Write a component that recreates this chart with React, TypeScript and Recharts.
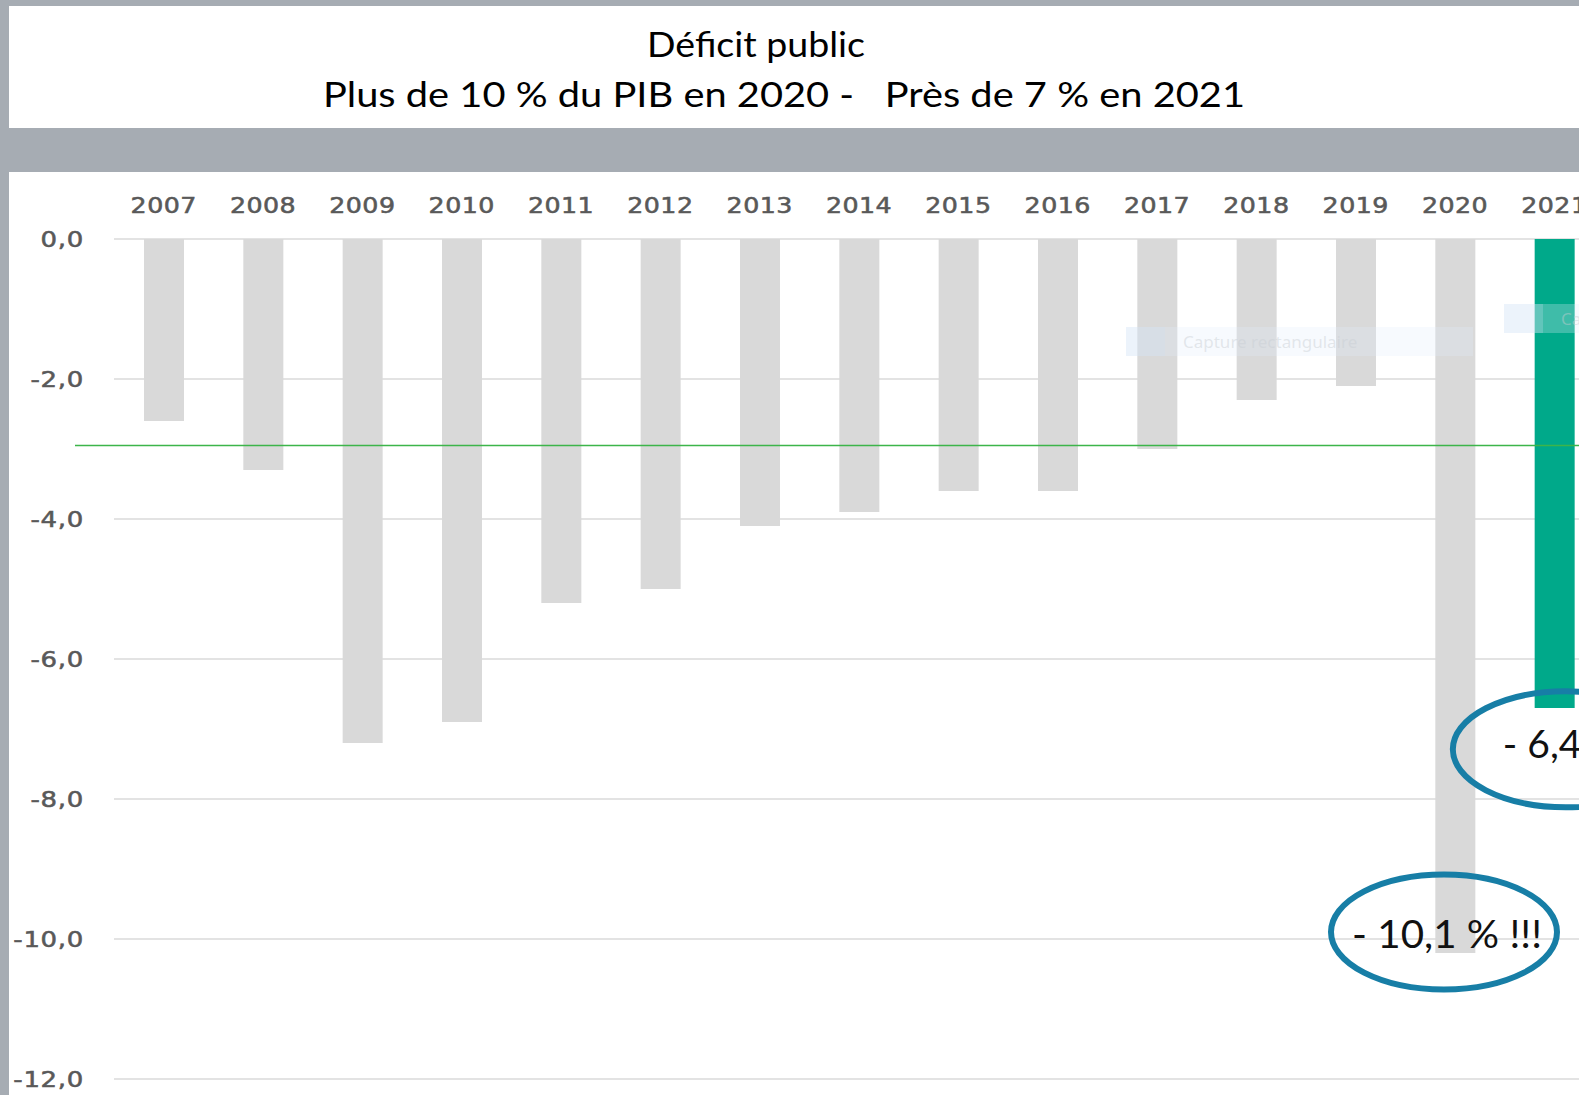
import React from 'react';
import { BarChart, Bar, XAxis, YAxis, CartesianGrid, ReferenceLine, ReferenceDot, Cell } from 'recharts';

const years = ['2007', '2008', '2009', '2010', '2011', '2012', '2013', '2014', '2015', '2016', '2017', '2018', '2019', '2020', '2021'];
const deficit = [-2.6, -3.3, -7.2, -6.9, -5.2, -5.0, -4.1, -3.9, -3.6, -3.6, -3.0, -2.3, -2.1, -10.2, -6.7];
const yTicks = [0, -2, -4, -6, -8, -10, -12];
const titleLine1 = 'Déficit public';
const titleLine2 = 'Plus de 10 % du PIB en 2020 -   Près de 7 % en 2021';
const thresholdValue = -2.95;
const highlightYear = '2021';
const annotationYears = ['2020', '2021'];
const annotationValues = [-9.9, -7.29];
const annotationLabels = ['- 10,1 % !!!', '- 6,4 %'];
const artifactLabel = 'Capture rectangulaire';

const data = years.map((year, i) => ({ year, value: deficit[i] }));

const GRAY_BG = '#a6acb3';
const TICK_COLOR = '#595959';
const RING = '#177ea6';

const XTick = (props: any) => {
  const { x, y, payload } = props;
  return (
    <g transform={`translate(${x},${y}) scale(1.15,1)`}>
      <text x={0} y={0} textAnchor="middle" fill={TICK_COLOR} stroke={TICK_COLOR} strokeWidth={0.55}
        fontFamily="DejaVu Sans" fontSize={22} style={{ letterSpacing: '0.4px' }}>
        {payload.value}
      </text>
    </g>
  );
};

const YTick = (props: any) => {
  const { x, y, payload } = props;
  const label = Number(payload.value).toFixed(1).replace('.', ',');
  return (
    <g transform={`translate(${x},${y}) scale(1.18,1)`}>
      <text x={0} y={0} dy={7.8} textAnchor="end" fill={TICK_COLOR} stroke={TICK_COLOR} strokeWidth={0.55}
        fontFamily="DejaVu Sans" fontSize={22} style={{ letterSpacing: '0.6px' }}>
        {label}
      </text>
    </g>
  );
};

const ringShape = (idx: number) => (p: any) => {
  const cx = p.cx;
  const cy = p.cy;
  if (idx === 0) {
    return (
      <g>
        <ellipse cx={cx - 11} cy={cy} rx={113} ry={57.5} fill="none" stroke={RING} strokeWidth={6} />
        <text x={cx - 103} y={cy + 16} fontFamily="Lato" fontSize={39} fill="#111" textLength={190} lengthAdjust="spacingAndGlyphs" style={{ whiteSpace: 'pre' }}>
          {annotationLabels[0]}
        </text>
      </g>
    );
  }
  return (
    <g>
      <ellipse cx={cx + 11.5} cy={cy} rx={113} ry={58} fill="none" stroke={RING} strokeWidth={6} />
      <text x={cx - 51.5} y={cy + 9} fontFamily="Lato" fontSize={39} fill="#111" style={{ whiteSpace: 'pre' }}>
        {annotationLabels[1]}
      </text>
    </g>
  );
};

export default function App() {
  return (
    <div style={{ position: 'fixed', left: 0, top: 0, width: 1579, height: 1095, overflow: 'hidden', background: GRAY_BG }}>
      <div style={{ position: 'absolute', left: 9, top: 6, width: 1570, height: 122, background: '#fff' }} />
      <div style={{ position: 'absolute', left: 9, top: 172, width: 1570, height: 923, background: '#fff' }} />
      <svg width={1579} height={130} style={{ position: 'absolute', left: 0, top: 0 }}>
        <text x={647} y={57} fontFamily="Lato" fontSize={34} fill="#000" textLength={218} lengthAdjust="spacingAndGlyphs">{titleLine1}</text>
        <text x={323} y={107} fontFamily="Lato" fontSize={34} fill="#000" textLength={922} lengthAdjust="spacingAndGlyphs" style={{ whiteSpace: 'pre' }}>{titleLine2}</text>
      </svg>
      <div style={{ position: 'absolute', left: 0, top: 0 }}>
        <BarChart width={1604} height={1095} data={data} margin={{ top: 189, right: 0, left: 0, bottom: 16 }}>
          <CartesianGrid vertical={false} stroke="#dadada" strokeWidth={1.6} />
          <XAxis dataKey="year" orientation="top" height={50} axisLine={false} tickLine={false} tickMargin={20} interval={0} tick={<XTick />} />
          <YAxis type="number" domain={[-12, 0]} ticks={yTicks} width={114} axisLine={false} tickLine={false} tickMargin={24} interval={0} tick={<YTick />} />
          <Bar dataKey="value" barSize={40} isAnimationActive={false}>
            {data.map((d) => (
              <Cell key={d.year} fill={d.year === highlightYear ? '#00a98a' : '#d9d9d9'} />
            ))}
          </Bar>
          <ReferenceLine
            y={thresholdValue}
            stroke="#3cb54a"
            strokeWidth={1.6}
            ifOverflow="visible"
            shape={(p: any) => (
              <line x1={p.x1 - 39} y1={p.y1} x2={p.x2} y2={p.y2} stroke="#3cb54a" strokeWidth={1.6} />
            )}
          />
          {annotationYears.map((yr, i) => (
            <ReferenceDot key={yr} x={yr} y={annotationValues[i]} r={2} ifOverflow="visible" shape={ringShape(i)} />
          ))}
        </BarChart>
      </div>
      <div style={{ position: 'absolute', left: 1126, top: 327, width: 347, height: 29, background: 'rgba(225,236,250,0.28)', display: 'flex', alignItems: 'center', overflow: 'hidden' }}>
        <div style={{ width: 39, height: 29, flexShrink: 0, background: 'rgba(205,222,245,0.25)' }} />
        <span style={{ marginLeft: 18, fontFamily: 'Noto Sans', fontSize: 17, color: 'rgba(200,205,210,0.45)', whiteSpace: 'nowrap' }}>{artifactLabel}</span>
      </div>
      <div style={{ position: 'absolute', left: 1504, top: 304, width: 80, height: 29, background: 'rgba(225,236,250,0.28)', display: 'flex', alignItems: 'center', overflow: 'hidden' }}>
        <div style={{ width: 39, height: 29, flexShrink: 0, background: 'rgba(205,222,245,0.25)' }} />
        <span style={{ marginLeft: 18, fontFamily: 'Noto Sans', fontSize: 17, color: 'rgba(200,205,210,0.45)', whiteSpace: 'nowrap' }}>{artifactLabel}</span>
      </div>
    </div>
  );
}
